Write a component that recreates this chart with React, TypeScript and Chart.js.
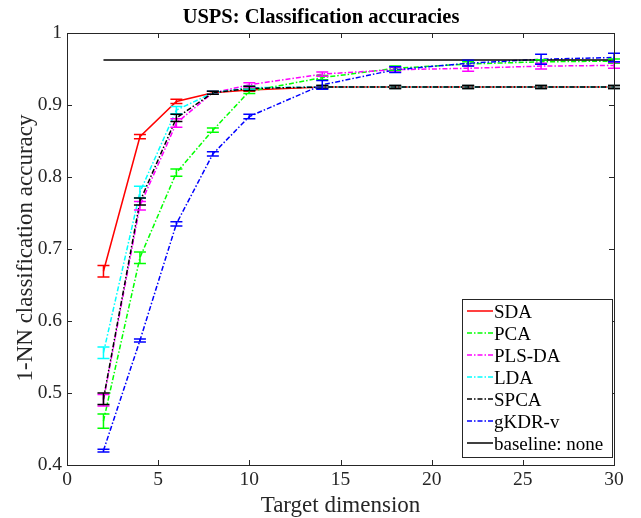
import React, { useEffect, useRef } from "react";
import { Chart, registerables } from "chart.js";

Chart.register(...registerables);

const dims = [2, 4, 6, 8, 10, 14, 18, 22, 26, 30];
const sda = [0.669, 0.856, 0.905, 0.917, 0.921, 0.925, 0.925, 0.925, 0.925, 0.925];
const sdaErr = [0.008, 0.003, 0.003, 0.002, 0.002, 0.002, 0.002, 0.002, 0.002, 0.002];
const pca = [0.461, 0.688, 0.806, 0.865, 0.919, 0.938, 0.951, 0.957, 0.960, 0.961];
const pcaErr = [0.01, 0.008, 0.005, 0.003, 0.003, 0.003, 0.003, 0.003, 0.003, 0.003];
const plsda = [0.49, 0.76, 0.875, 0.917, 0.928, 0.943, 0.949, 0.951, 0.954, 0.955];
const plsdaErr = [0.008, 0.006, 0.006, 0.002, 0.003, 0.003, 0.003, 0.004, 0.004, 0.004];
const lda = [0.556, 0.779, 0.893, 0.917, 0.924, 0.925, 0.925, 0.925, 0.925, 0.925];
const ldaErr = [0.008, 0.008, 0.005, 0.002, 0.002, 0.002, 0.002, 0.002, 0.002, 0.002];
const spca = [0.492, 0.766, 0.882, 0.917, 0.923, 0.925, 0.925, 0.925, 0.925, 0.925];
const spcaErr = [0.008, 0.005, 0.005, 0.002, 0.003, 0.002, 0.002, 0.002, 0.002, 0.002];
const gkdr = [0.42, 0.573, 0.735, 0.832, 0.884, 0.928, 0.949, 0.958, 0.9635, 0.966];
const gkdrErr = [0.002, 0.002, 0.003, 0.003, 0.003, 0.006, 0.004, 0.004, 0.007, 0.006];
const baselineX = [2, 30];
const baselineY = [0.9625, 0.9625];

const xTicks = [0, 5, 10, 15, 20, 25, 30];
const yTicks = [0.4, 0.5, 0.6, 0.7, 0.8, 0.9, 1];

const titleText = "USPS: Classification accuracies";
const xLabel = "Target dimension";
const yLabel = "1-NN classification accuracy";

const FONT = "'Liberation Serif', 'Times New Roman', serif";
const DASHDOT = [5, 2, 1.5, 2];

const seriesDefs = [
  { label: "SDA", values: sda, err: sdaErr, color: "#ff0000", dash: [] as number[] },
  { label: "PCA", values: pca, err: pcaErr, color: "#00ff00", dash: DASHDOT },
  { label: "PLS-DA", values: plsda, err: plsdaErr, color: "#ff00ff", dash: DASHDOT },
  { label: "LDA", values: lda, err: ldaErr, color: "#00ffff", dash: DASHDOT },
  { label: "SPCA", values: spca, err: spcaErr, color: "#000000", dash: DASHDOT },
  { label: "gKDR-v", values: gkdr, err: gkdrErr, color: "#0000ff", dash: DASHDOT },
];

const errorBarPlugin = {
  id: "errorBars",
  afterDatasetsDraw(chart: any) {
    const ctx = chart.ctx;
    const xs = chart.scales.x;
    const ys = chart.scales.y;
    ctx.save();
    ctx.lineWidth = 1.5;
    ctx.setLineDash([]);
    seriesDefs.forEach((s) => {
      ctx.strokeStyle = s.color;
      s.values.forEach((v, j) => {
        const px = xs.getPixelForValue(dims[j]);
        const top = ys.getPixelForValue(v + s.err[j]);
        const bot = ys.getPixelForValue(v - s.err[j]);
        ctx.beginPath();
        ctx.moveTo(px, top);
        ctx.lineTo(px, bot);
        ctx.moveTo(px - 6, top);
        ctx.lineTo(px + 6, top);
        ctx.moveTo(px - 6, bot);
        ctx.lineTo(px + 6, bot);
        ctx.stroke();
      });
    });
    ctx.restore();
  },
};

const framePlugin = {
  id: "frame",
  afterDraw(chart: any) {
    const ctx = chart.ctx;
    const { left, right, top, bottom } = chart.chartArea;
    const xs = chart.scales.x;
    const ys = chart.scales.y;
    ctx.save();
    ctx.strokeStyle = "#262626";
    ctx.lineWidth = 1;
    ctx.setLineDash([]);
    ctx.strokeRect(left + 0.5, top + 0.5, right - left, bottom - top);
    ctx.beginPath();
    xTicks.forEach((t) => {
      const px = Math.round(xs.getPixelForValue(t)) + 0.5;
      ctx.moveTo(px, bottom);
      ctx.lineTo(px, bottom - 5);
      ctx.moveTo(px, top);
      ctx.lineTo(px, top + 5);
    });
    yTicks.forEach((t) => {
      const py = Math.round(ys.getPixelForValue(t)) + 0.5;
      ctx.moveTo(left, py);
      ctx.lineTo(left + 5, py);
      ctx.moveTo(right, py);
      ctx.lineTo(right - 5, py);
    });
    ctx.stroke();

    // title
    ctx.fillStyle = "#000";
    ctx.font = `bold 20.5px ${FONT}`;
    ctx.textAlign = "center";
    ctx.textBaseline = "alphabetic";
    ctx.fillText(titleText, 321, 23);

    // axis labels
    ctx.fillStyle = "#262626";
    ctx.font = `23px ${FONT}`;
    ctx.fillText(xLabel, (left + right) / 2, 512);
    ctx.save();
    ctx.translate(32, (top + bottom) / 2 - 1);
    ctx.rotate(-Math.PI / 2);
    ctx.fillText(yLabel, 0, 0);
    ctx.restore();

    // legend
    const lx0 = 462;
    const ly0 = 299;
    const lw = 150;
    const rowH = 22;
    const items = [
      ...seriesDefs.map((s) => ({ label: s.label, color: s.color, dash: s.dash })),
      { label: "baseline: none", color: "#000000", dash: [] as number[] },
    ];
    const lh = 158;
    ctx.fillStyle = "#ffffff";
    ctx.fillRect(lx0, ly0, lw, lh);
    ctx.strokeStyle = "#262626";
    ctx.lineWidth = 1;
    ctx.strokeRect(lx0 + 0.5, ly0 + 0.5, lw, lh);
    ctx.font = `19px ${FONT}`;
    ctx.textAlign = "left";
    ctx.textBaseline = "alphabetic";
    items.forEach((it, i) => {
      const cy = ly0 + 12 + i * rowH;
      ctx.lineWidth = 1.5;
      ctx.strokeStyle = it.color;
      ctx.setLineDash(it.dash);
      ctx.beginPath();
      ctx.moveTo(lx0 + 5, cy);
      ctx.lineTo(lx0 + 31, cy);
      ctx.stroke();
      ctx.setLineDash([]);
      ctx.fillStyle = "#000000";
      ctx.fillText(it.label, lx0 + 32, cy + 7);
    });
    ctx.restore();
  },
};

export default function App() {
  const ref = useRef<HTMLCanvasElement | null>(null);
  useEffect(() => {
    document.body.style.margin = "0";
    const canvas = ref.current!;
    const datasets: any[] = seriesDefs.map((s, i) => ({
      label: s.label,
      data: s.values.map((v, j) => ({ x: dims[j], y: v })),
      borderColor: s.color,
      backgroundColor: s.color,
      borderWidth: 1.5,
      borderDash: s.dash,
      pointRadius: 0,
      fill: false,
      tension: 0,
      order: 10 - i,
    }));
    datasets.push({
      label: "baseline: none",
      data: baselineX.map((x, j) => ({ x, y: baselineY[j] })),
      borderColor: "#000000",
      borderWidth: 1.5,
      pointRadius: 0,
      fill: false,
      order: 0,
    });
    const chart = new Chart(canvas, {
      type: "line",
      data: { datasets },
      options: {
        animation: false,
        responsive: false,
        devicePixelRatio: 1,
        layout: { padding: { top: 33, right: 27, left: 0, bottom: 0 } },
        plugins: {
          legend: { display: false },
          title: { display: false },
          tooltip: { enabled: false },
        },
        scales: {
          x: {
            type: "linear",
            min: 0,
            max: 30,
            afterBuildTicks: (scale: any) => {
              scale.ticks = xTicks.map((v) => ({ value: v }));
            },
            afterFit: (scale: any) => {
              scale.height = 53;
            },
            grid: { display: false, drawTicks: false },
            border: { display: false },
            ticks: {
              color: "#262626",
              font: { family: FONT, size: 19.5 },
              padding: 3,
              maxRotation: 0,
              callback: (v: any) => String(v),
            },
          },
          y: {
            type: "linear",
            min: 0.4,
            max: 1,
            afterBuildTicks: (scale: any) => {
              scale.ticks = yTicks.map((v) => ({ value: v }));
            },
            afterFit: (scale: any) => {
              scale.width = 67;
            },
            grid: { display: false, drawTicks: false },
            border: { display: false },
            ticks: {
              color: "#262626",
              font: { family: FONT, size: 19.5 },
              padding: 5,
              callback: (v: any) => (v === 1 ? "1" : Number(v).toFixed(1)),
            },
          },
        },
      },
      plugins: [errorBarPlugin, framePlugin],
    });
    return () => chart.destroy();
  }, []);
  return (
    <div style={{ position: "absolute", left: 0, top: 0, width: 641, height: 518, background: "#fff" }}>
      <canvas ref={ref} width={641} height={518} style={{ width: 641, height: 518 }} />
    </div>
  );
}
